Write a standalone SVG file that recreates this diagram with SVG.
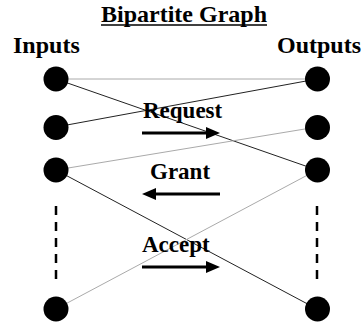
<svg xmlns="http://www.w3.org/2000/svg" width="363" height="326" viewBox="0 0 363 326">
  <style>
    text { font-family: "Liberation Serif", "Times New Roman", serif; font-weight: bold; fill: #000; }
    .head { font-size: 24px; }
    .lbl { font-size: 23px; }
    .edge-dark { stroke: #222; stroke-width: 1; fill: none; }
    .edge-light { stroke: #aaa; stroke-width: 1; fill: none; }
    .dots { stroke: #000; stroke-width: 2.5; stroke-dasharray: 9 7; fill: none; }
    .shaft { stroke: #000; stroke-width: 3; fill: none; }
    .node { fill: #000; }
  </style>

  <rect width="363" height="326" fill="#fff"/>

  <!-- title and column headings -->
  <text class="head" x="101" y="22" textLength="166" lengthAdjust="spacingAndGlyphs">Bipartite Graph</text>
  <line x1="101" y1="25" x2="267" y2="25" stroke="#000" stroke-width="1.5"/>
  <text class="head" x="13" y="53">Inputs</text>
  <text class="head" x="277" y="53">Outputs</text>

  <!-- edges between inputs and outputs -->
  <g id="connectors">
    <line class="edge-light" x1="56" y1="79" x2="317" y2="79"/>
    <line class="edge-dark" x1="56" y1="79" x2="317" y2="170"/>
    <line class="edge-dark" x1="56" y1="127" x2="317" y2="79"/>
    <line class="edge-light" x1="56" y1="170" x2="317" y2="127"/>
    <line class="edge-dark" x1="56" y1="170" x2="317" y2="309"/>
    <line class="edge-light" x1="56" y1="309" x2="317" y2="170"/>
    <line class="dots" x1="56" y1="206" x2="56" y2="279"/>
    <line class="dots" x1="317" y1="206" x2="317" y2="279"/>
  </g>

  <!-- input nodes -->
  <g id="in1"><circle class="node" cx="56" cy="79" r="12.5"/></g>
  <g id="in2"><circle class="node" cx="56" cy="127.5" r="12.5"/></g>
  <g id="in3"><circle class="node" cx="56" cy="170" r="12.5"/></g>
  <g id="in4"><circle class="node" cx="56" cy="309" r="12.5"/></g>

  <!-- output nodes -->
  <g id="out1"><circle class="node" cx="317.5" cy="79" r="12.5"/></g>
  <g id="out2"><circle class="node" cx="317.5" cy="127.5" r="12.5"/></g>
  <g id="out3"><circle class="node" cx="317.5" cy="170" r="12.5"/></g>
  <g id="out4"><circle class="node" cx="317.5" cy="309" r="12.5"/></g>

  <!-- phase labels with direction arrows -->
  <g id="request">
    <text class="lbl" x="143" y="118">Request</text>
    <line class="shaft" x1="142" y1="133" x2="209" y2="133"/>
    <polygon points="206,127 220,133 206,139" fill="#000"/>
  </g>
  <g id="grant">
    <text class="lbl" x="150" y="179">Grant</text>
    <line class="shaft" x1="153" y1="194" x2="220" y2="194"/>
    <polygon points="156,188 142,194 156,200" fill="#000"/>
  </g>
  <g id="accept">
    <text class="lbl" x="142" y="252">Accept</text>
    <line class="shaft" x1="142" y1="267" x2="209" y2="267"/>
    <polygon points="206,261 220,267 206,273" fill="#000"/>
  </g>
</svg>
